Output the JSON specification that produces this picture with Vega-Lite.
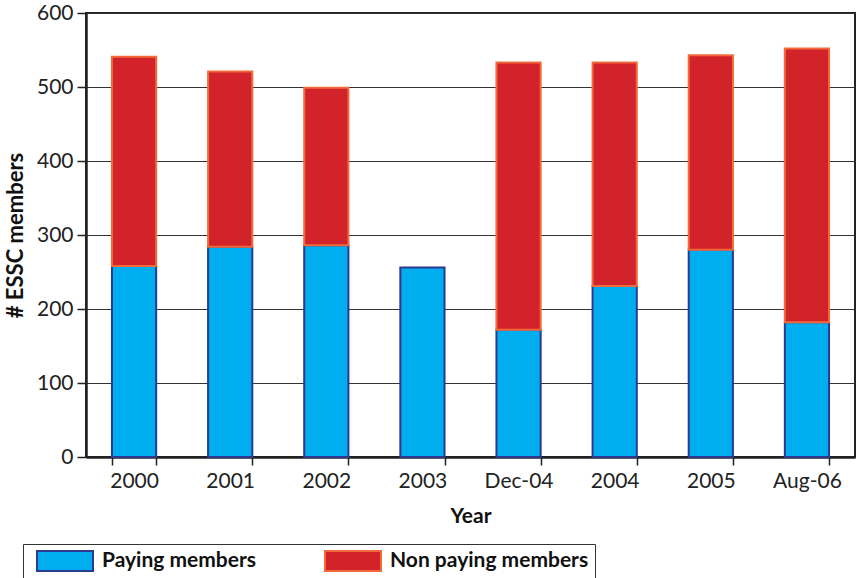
{
  "$schema": "https://vega.github.io/schema/vega-lite/v6.json",
  "width": 769,
  "height": 444,
  "autosize": "none",
  "padding": {"left": 86, "top": 13, "right": 5, "bottom": 121},
  "background": "white",
  "config": {
    "font": "Lato",
    "view": {"stroke": "#222222", "strokeWidth": 2},
    "axis": {"labelFont": "Lato", "titleFont": "Lato", "labelColor": "#222222", "titleColor": "#111111"},
    "legend": {"labelFont": "Lato"}
  },
  "data": {
    "values": [
      {"year": "2000", "type": "Paying members", "members": 258},
      {"year": "2000", "type": "Non paying members", "members": 283},
      {"year": "2001", "type": "Paying members", "members": 284},
      {"year": "2001", "type": "Non paying members", "members": 237},
      {"year": "2002", "type": "Paying members", "members": 286},
      {"year": "2002", "type": "Non paying members", "members": 213},
      {"year": "2003", "type": "Paying members", "members": 256},
      {"year": "Dec-04", "type": "Paying members", "members": 172},
      {"year": "Dec-04", "type": "Non paying members", "members": 361},
      {"year": "2004", "type": "Paying members", "members": 231},
      {"year": "2004", "type": "Non paying members", "members": 302},
      {"year": "2005", "type": "Paying members", "members": 280},
      {"year": "2005", "type": "Non paying members", "members": 263},
      {"year": "Aug-06", "type": "Paying members", "members": 182},
      {"year": "Aug-06", "type": "Non paying members", "members": 370}
    ]
  },
  "mark": {"type": "bar", "strokeWidth": 2},
  "encoding": {
    "x": {
      "field": "year",
      "type": "nominal",
      "sort": null,
      "scale": {"paddingInner": 0.54, "paddingOuter": 0.27},
      "axis": {
        "title": "Year",
        "labelAngle": 0,
        "labelFontSize": 21,
        "labelPadding": 5,
        "titleFontSize": 21,
        "titleFontWeight": "bold",
        "titlePadding": 14,
        "tickBand": "extent",
        "tickSize": 8,
        "tickColor": "#222222",
        "tickWidth": 1.5,
        "domainColor": "#222222",
        "domainWidth": 2.5
      }
    },
    "y": {
      "field": "members",
      "type": "quantitative",
      "stack": "zero",
      "scale": {"domain": [0, 600]},
      "axis": {
        "title": "# ESSC members",
        "values": [0, 100, 200, 300, 400, 500, 600],
        "labelFontSize": 21,
        "labelPadding": 4,
        "titleFontSize": 22,
        "titleFontWeight": "bold",
        "titlePadding": 9,
        "tickSize": 9,
        "tickColor": "#222222",
        "tickWidth": 1.5,
        "grid": true,
        "gridColor": "#333333",
        "gridWidth": 1.2,
        "domainColor": "#222222",
        "domainWidth": 2.5
      }
    },
    "fill": {
      "field": "type",
      "type": "nominal",
      "scale": {"domain": ["Paying members", "Non paying members"], "range": ["#00AEEF", "#D2232A"]},
      "legend": {
        "title": null,
        "orient": "none",
        "legendX": -63,
        "legendY": 531,
        "direction": "horizontal",
        "strokeColor": "#333333",
        "padding": 6,
        "symbolType": "M-2.8,-1H2.8V1H-2.8Z",
        "symbolSize": 400,
        "symbolStrokeWidth": 2,
        "symbolOffset": 25,
        "labelFontSize": 21,
        "labelFontWeight": "bold",
        "labelColor": "#111111",
        "labelOffset": 26,
        "columnPadding": 60,
        "labelLimit": 400,
        "labelExpr": "datum.label == 'Non paying members' ? datum.label + '\u00a0\u00a0\u00a0' : datum.label"
      }
    },
    "stroke": {
      "field": "type",
      "type": "nominal",
      "scale": {"domain": ["Paying members", "Non paying members"], "range": ["#2B3990", "#F26A3A"]},
      "legend": null
    },
    "order": {"field": "type", "sort": "descending"}
  }
}
